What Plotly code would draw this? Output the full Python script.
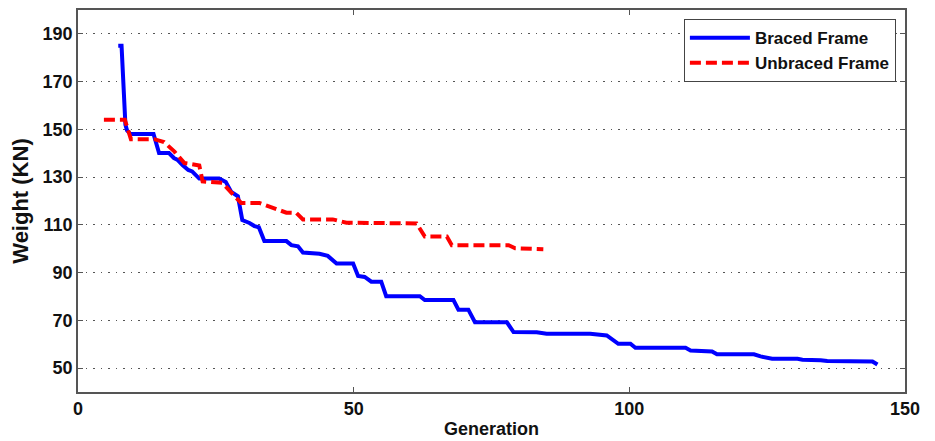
import plotly.graph_objects as go

braced_gen = [7.3, 7.9, 8.6, 8.9, 9.5, 13.7, 14.7, 16.5, 17.4, 18.0, 19.0, 20.0, 20.7, 22.0,
              25.6, 26.8, 27.8, 29.0, 29.8, 31.1, 32.0, 32.8, 33.8, 37.8, 38.7, 39.9, 40.8,
              43.8, 45.3, 46.9, 49.9, 50.8, 52.0, 53.2, 55.0, 55.9, 62.0, 62.9, 68.1, 69.0,
              70.8, 72.0, 77.8, 79.0, 83.2, 85.0, 92.9, 95.9, 98.0, 100.2, 101.1, 110.2,
              111.1, 115.0, 115.9, 122.6, 123.8, 125.9, 130.5, 131.4, 134.7, 135.9, 144.1, 145.0]
braced_weight = [185, 185, 152, 149.5, 148.1, 148.1, 140.1, 140.1, 138, 137.3, 135, 133, 132.4, 129.4,
                 129.4, 128, 123.8, 122, 112, 110.8, 109.5, 109, 103.2, 103.2, 101.5, 101, 98.4,
                 97.9, 97.0, 93.8, 93.8, 88.6, 88.2, 86.2, 86.2, 80.1, 80.1, 78.5, 78.5, 74.5,
                 74.5, 69.2, 69.2, 65.1, 65.0, 64.4, 64.4, 63.7, 60.2, 60.2, 58.5, 58.5,
                 57.4, 57.0, 55.8, 55.8, 54.9, 53.9, 53.9, 53.5, 53.3, 53.0, 52.8, 51.5]

unbraced_gen = [4.7, 8.5, 9.6, 13.8, 15.6, 17.5, 19.3, 22.0, 22.6, 26.2, 28.4, 29.6, 32.9, 35.3,
                37.8, 39.6, 40.8, 46.2, 48.7, 61.4, 62.9, 66.9, 67.8, 78.1, 79.3, 84.4]
unbraced_weight = [154, 154, 145.9, 145.9, 144.7, 140.7, 135.9, 134.9, 128.2, 127.6, 122, 119.2, 119.2, 117.2,
                   115.1, 115.0, 112.3, 112.3, 110.9, 110.6, 105.1, 105.1, 101.5, 101.5, 100.2, 99.8]

x_ticks = [0, 50, 100, 150]
y_ticks = [50, 70, 90, 110, 130, 150, 170, 190]

font_family = "Liberation Sans, Arial, sans-serif"

fig = go.Figure()
fig.add_trace(go.Scatter(x=braced_gen, y=braced_weight, mode="lines", name="Braced Frame",
                         line=dict(color="#0000FF", width=4)))
fig.add_trace(go.Scatter(x=unbraced_gen, y=unbraced_weight, mode="lines", name="Unbraced Frame",
                         line=dict(color="#FF0000", width=4, dash="11px,5px")))

axis_common = dict(showline=True, linecolor="#555555", linewidth=1.5, mirror="ticks",
                   ticks="inside", ticklen=5, tickcolor="#555555", zeroline=False,
                   automargin=False,
                   tickfont=dict(family=font_family, size=18, color="#111111", weight="bold"))

fig.update_xaxes(range=[0, 150], tickvals=x_ticks, showgrid=False,
                 title=dict(text="Generation", standoff=4,
                            font=dict(family=font_family, size=18, color="#111111", weight="bold")),
                 **axis_common)
fig.update_yaxes(range=[40, 200], tickvals=y_ticks, showgrid=True, gridcolor="#555555",
                 griddash="1.5px,6px", gridwidth=1,
                 title=dict(text="Weight (KN)", standoff=8,
                            font=dict(family=font_family, size=22, color="#111111", weight="bold")),
                 **axis_common)

# The page body has an 8px margin, so the figure is offset by 8px; margins compensate.
fig.update_layout(
    width=927, height=433,
    margin=dict(l=70, r=30, t=2, b=49),
    paper_bgcolor="white", plot_bgcolor="white",
    legend=dict(x=0.989, y=0.976, xanchor="right", yanchor="top",
                bordercolor="#444444", borderwidth=1, bgcolor="white",
                font=dict(family=font_family, size=17, color="#111111", weight="bold"),
                itemwidth=60),
    showlegend=True,
)

fig.write_html("out.html")
